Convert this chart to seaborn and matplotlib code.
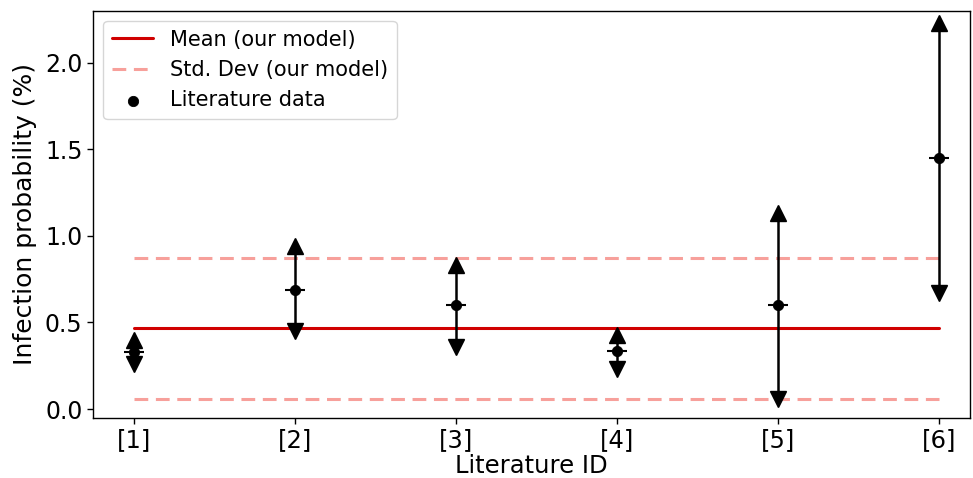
import numpy as np
import pandas as pd
import matplotlib
matplotlib.use("Agg")
import matplotlib.pyplot as plt
import seaborn as sns

# Dados
literature_ids = ["[1]", "[2]", "[3]", "[4]", "[5]", "[6]"]
lit_center = [0.33, 0.69, 0.60, 0.335, 0.60, 1.45]
lit_low = [0.26, 0.45, 0.36, 0.23, 0.06, 0.67]
lit_high = [0.40, 0.94, 0.83, 0.43, 1.13, 2.23]
model_mean = 0.465
model_std = 0.405

sns.set_style("white")
plt.rcParams["font.family"] = ["DejaVu Sans"]
plt.rcParams["axes.edgecolor"] = "black"
plt.rcParams["text.color"] = "black"
plt.rcParams["axes.labelcolor"] = "black"
plt.rcParams["xtick.color"] = "black"
plt.rcParams["ytick.color"] = "black"

fig = plt.figure(figsize=(9.73, 4.78), dpi=100)
ax = fig.add_axes([0.0956, 0.1255, 0.9014, 0.852])

x = np.arange(1, len(literature_ids) + 1)
df = pd.DataFrame({"x": x, "center": lit_center, "low": lit_low, "high": lit_high})

lines = pd.DataFrame({
    "x": [x[0], x[-1]],
    "mean": [model_mean] * 2,
    "up": [model_mean + model_std] * 2,
    "down": [model_mean - model_std] * 2,
})

sns.lineplot(data=lines, x="x", y="mean", color="#d00000", linewidth=2.2,
             label="Mean (our model)", ax=ax)
sns.lineplot(data=lines, x="x", y="up", color="#f7a09b", linewidth=2.2,
             linestyle=(0, (4.5, 2.5)), label="Std. Dev (our model)", ax=ax)
sns.lineplot(data=lines, x="x", y="down", color="#f7a09b", linewidth=2.2,
             linestyle=(0, (4.5, 2.5)), ax=ax)

# Barras de erro com setas
ax.vlines(df["x"], df["low"], df["high"], color="black", linewidth=1.8, zorder=3)
ax.plot(df["x"], df["high"], linestyle="none", marker="^", markersize=11,
        color="black", zorder=4)
ax.plot(df["x"], df["low"], linestyle="none", marker="v", markersize=11,
        color="black", zorder=4)
ax.plot(df["x"], df["center"], linestyle="none", marker="_", markersize=14,
        markeredgewidth=1.5, color="black", zorder=4)
sns.scatterplot(data=df, x="x", y="center", color="black", s=55,
                edgecolor="black", label="Literature data", zorder=5, ax=ax)

ax.set_xlim(0.745, 6.19)
ax.set_ylim(-0.052, 2.30)
ax.set_xticks(x)
ax.set_xticklabels(literature_ids)
ax.set_yticks([0.0, 0.5, 1.0, 1.5, 2.0])
ax.tick_params(axis="both", labelsize=17, length=4, width=1, color="black",
               bottom=True, left=True)
ax.tick_params(axis="x", labelsize=17.5)
ax.set_xlabel("Literature ID", fontsize=17.5, labelpad=1)
ax.set_ylabel("Infection probability (%)", fontsize=18, labelpad=6)
for s in ax.spines.values():
    s.set_visible(True)
    s.set_color("black")
    s.set_linewidth(1.0)

ax.legend(loc="upper left", fontsize=15, frameon=True, fancybox=True,
          framealpha=0.8, edgecolor="#cccccc", handlelength=2.0)

fig.savefig("out.png", dpi=100)
